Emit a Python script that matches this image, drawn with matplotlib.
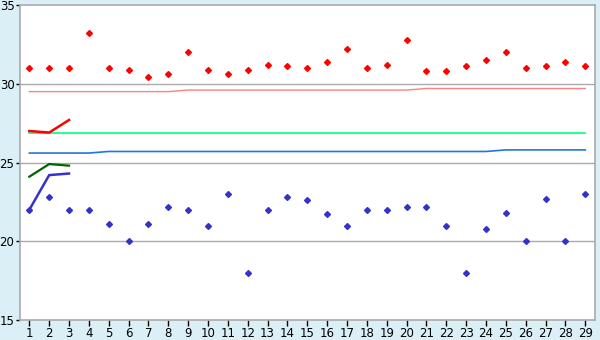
import numpy as np
import matplotlib
matplotlib.use('Agg')
import matplotlib.pyplot as plt

days = list(range(1, 30))

# daily high / low readings (diamond markers)
high_pts = [31.0, 31.0, 31.0, 33.2, 31.0, 30.9, 30.4, 30.6, 32.0, 30.9,
            30.6, 30.9, 31.2, 31.1, 31.0, 31.4, 32.2, 31.0, 31.2, 32.8,
            30.8, 30.8, 31.1, 31.5, 32.0, 31.0, 31.1, 31.4, 31.1]
low_pts = [22.0, 22.8, 22.0, 22.0, 21.1, 20.0, 21.1, 22.2, 22.0, 21.0,
           23.0, 18.0, 22.0, 22.8, 22.6, 21.7, 21.0, 22.0, 22.0, 22.2,
           22.2, 21.0, 18.0, 20.8, 21.8, 20.0, 22.7, 20.0, 23.0]

# reference lines across the month
pink_ref = [29.5] * 8 + [29.6] * 12 + [29.7] * 9
green_ref = [26.9] * 29
blue_ref = [25.6] * 4 + [25.7] * 20 + [25.8] * 5

# short series for the first three days
short_days = [1, 2, 3]
red_short = [27.0, 26.9, 27.7]
green_short = [24.1, 24.9, 24.8]
blue_short = [22.0, 24.2, 24.3]

fig = plt.figure(figsize=(6, 3.4), dpi=100)
fig.patch.set_facecolor('#dbeff7')
ax = fig.add_axes([20/600, 20/340, 575/600, 315/340])
ax.set_facecolor('white')

for y in [20, 25, 30]:
    ax.axhline(y, color='#aaaaaa', lw=1.0, zorder=1)

ax.plot(days, pink_ref, color='#ff8080', lw=1.0, zorder=2)
ax.plot(days, green_ref, color='#00ff80', lw=1.2, zorder=2)
ax.plot(days, blue_ref, color='#1e78dc', lw=1.2, zorder=2)

ax.plot(short_days, red_short, color='#ff0000', lw=1.8, zorder=3)
ax.plot(short_days, green_short, color='#006400', lw=1.6, zorder=3)
ax.plot(short_days, blue_short, color='#3333cc', lw=1.8, zorder=3)

ax.plot(days, high_pts, ls='none', marker='D', ms=3.0, color='#ff0000', zorder=4)
ax.plot(days, low_pts, ls='none', marker='D', ms=3.0, color='#3333cc', zorder=4)

ax.set_xlim(0.53, 29.49)
ax.set_ylim(15, 35)
ax.set_xticks(days)
ax.set_yticks([15, 20, 25, 30, 35])
ax.tick_params(axis='x', length=4, width=1, color='black', labelsize=8.5, pad=1)
ax.tick_params(axis='y', length=3, width=1, color='black', labelsize=8.5, pad=1)

for s in ax.spines.values():
    s.set_color('#aaaaaa')
    s.set_linewidth(1.2)

fig.savefig('out.png', dpi=100, facecolor=fig.get_facecolor())
